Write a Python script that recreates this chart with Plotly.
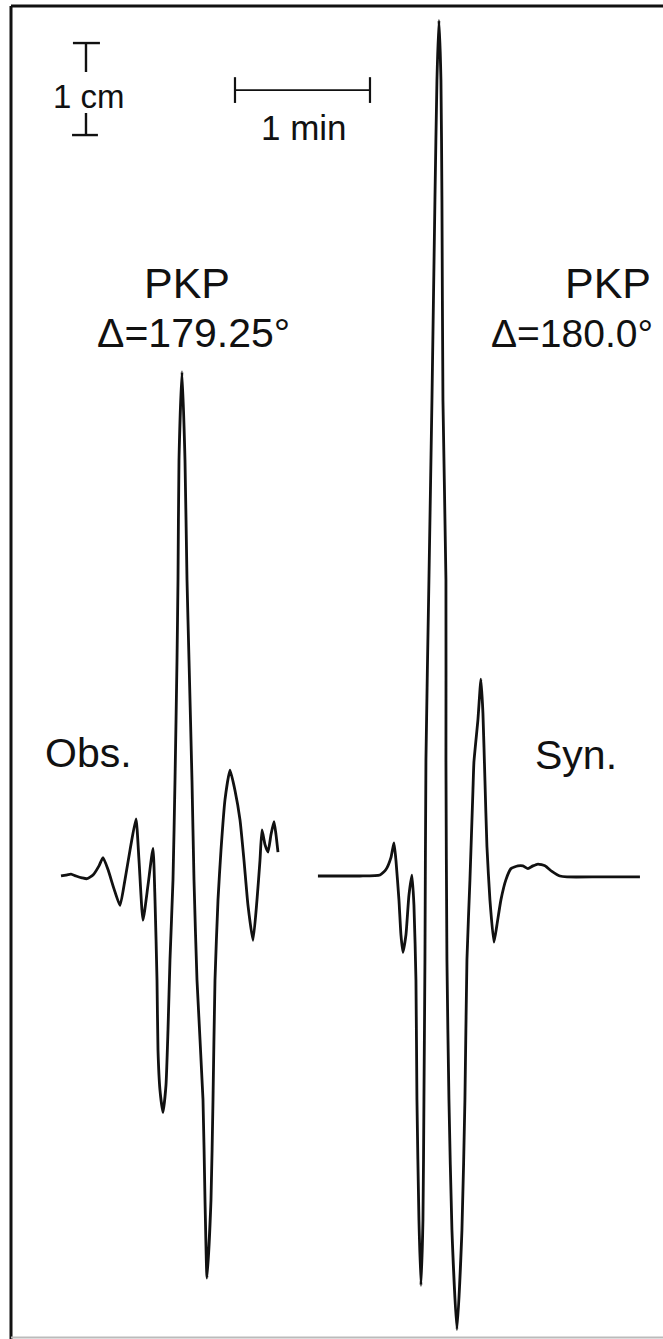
import plotly.graph_objects as go

# ---------------- data (time in s, amplitude in cm) ----------------
obs_t = [0, 2.22, 4.44, 6.67, 9.33, 11.56, 14.22, 16.89, 18.67, 20.89, 23.56, 26.22,
         28.44, 30.67, 33.33, 34.67, 36.44, 38.67, 40.89, 41.78, 42.67, 43.11, 44.00,
         45.33, 46.67, 47.56, 48.44, 49.78, 50.67, 51.56, 52.00, 52.44, 53.78, 55.11,
         56.00, 56.89, 58.22, 59.11, 60.44, 63.11, 64.00, 64.89, 66.67, 67.56, 68.44,
         69.78, 71.11, 72.89, 75.11, 77.33, 79.56, 81.33, 83.11, 85.33, 87.11, 88.44,
         89.33, 90.67, 92.00, 93.33, 94.67, 95.56, 96.44]
obs_a = [0, 0.01, 0.02, 0, -0.02, -0.03, 0.01, 0.11, 0.20, 0.07, -0.14, -0.32,
         -0.04, 0.28, 0.62, 0.17, -0.48, -0.10, 0.30, -0.26, -1.13, -1.89, -2.33,
         -2.57, -2.27, -1.67, -0.91, -0.04, 1.04, 2.35, 3.22, 4.52, 5.48, 4.52,
         3.22, 2.35, 1.04, -0.04, -1.13, -2.43, -3.52, -4.37, -3.52, -2.43, -1.13,
         -0.26, 0.28, 0.83, 1.15, 0.93, 0.61, 0.17, -0.32, -0.70, -0.26, 0.17,
         0.50, 0.34, 0.26, 0.45, 0.59, 0.45, 0.26]

syn_t = [0, 9.78, 18.67, 27.56, 30.22, 32.44, 33.78, 34.67, 36.00, 36.89, 37.78,
         39.11, 40.44, 41.78, 42.67, 43.56, 44.00, 44.89, 45.78, 46.67, 47.11, 47.56,
         48.00, 49.33, 50.67, 52.00, 52.89, 53.78, 54.67, 55.11, 55.56, 56.89, 56.89,
         57.33, 58.22, 59.56, 61.78, 64.00, 65.33, 66.22, 67.56, 68.89, 69.33, 71.11,
         72.44, 73.33, 74.22, 75.11, 76.44, 78.22, 79.56, 81.33, 83.56, 85.78, 88.89,
         91.11, 93.33, 95.56, 97.78, 100.89, 104.00, 107.56, 110.67, 125.33, 143.11]
syn_a = [0, 0, 0, 0.01, 0.07, 0.20, 0.36, 0.17, -0.26, -0.64, -0.83,
         -0.64, -0.21, 0.01, -0.32, -1.13, -2.43, -3.74, -4.45, -3.74, -2.43, -0.91,
         1.26, 3.22, 5.17, 7.35, 8.65, 9.30, 8.65, 7.35, 5.17, 3.22, 1.26,
         -0.91, -2.43, -3.85, -4.93, -3.85, -2.43, -0.91, -0.04, 0.93, 1.24, 1.70,
         2.14, 1.77, 1.04, 0.32, -0.26, -0.72, -0.53, -0.26, -0.04, 0.08, 0.11,
         0.11, 0.08, 0.11, 0.13, 0.11, 0.05, 0, -0.01, -0.01, -0.01]

labels_phase = ["PKP", "PKP"]
labels_dist = ["Δ=179.25°", "Δ=180.0°"]
labels_trace = ["Obs.", "Syn."]
scale_time_s = 60      # 1 min
scale_amp_cm = 1       # 1 cm

# ---------------- layout constants ----------------
W, H = 663, 1339
SYN_SHIFT = 114.2               # display offset of the synthetic trace (s)
X_RANGE = [-27.11, 267.56]
Y_RANGE = [-5.033, 9.522]
FONT = "Liberation Sans, Arial, sans-serif"
INK = "#111111"

def px(xp):
    return xp / W

def py(yp):
    return 1 - yp / H

fig = go.Figure()
fig.add_trace(go.Scatter(x=obs_t, y=obs_a, mode="lines",
                         line=dict(color=INK, width=2.8, shape="spline", smoothing=0.5),
                         hoverinfo="skip", showlegend=False))
fig.add_trace(go.Scatter(x=[t + SYN_SHIFT for t in syn_t], y=syn_a, mode="lines",
                         line=dict(color=INK, width=2.8, shape="spline", smoothing=0.5),
                         hoverinfo="skip", showlegend=False))

shapes = []
# frame
shapes.append(dict(type="line", xref="paper", yref="paper", x0=px(11), x1=px(11),
                   y0=py(6), y1=py(1339), line=dict(color=INK, width=3)))
shapes.append(dict(type="line", xref="paper", yref="paper", x0=px(11), x1=1,
                   y0=py(6), y1=py(6), line=dict(color=INK, width=3)))
shapes.append(dict(type="line", xref="paper", yref="paper", x0=px(11), x1=1,
                   y0=py(1337.5), y1=py(1337.5), line=dict(color="#bbbbbb", width=2)))

# 1 min scale bar
t0 = 77.33
ybar = 8.543
shapes.append(dict(type="line", x0=t0, x1=t0 + scale_time_s, y0=ybar, y1=ybar,
                   line=dict(color=INK, width=1.8)))
for tt in (t0, t0 + scale_time_s):
    shapes.append(dict(type="line", x0=tt, x1=tt, y0=ybar - 0.14, y1=ybar + 0.14,
                       line=dict(color=INK, width=2.2)))

# 1 cm scale bar
tc = 11.11
a_top = 9.054
a_bot = a_top - scale_amp_cm
shapes.append(dict(type="line", x0=tc - 5.8, x1=tc + 6.2, y0=a_top, y1=a_top,
                   line=dict(color=INK, width=2.4)))
shapes.append(dict(type="line", x0=tc, x1=tc, y0=a_top, y1=a_top - 0.315,
                   line=dict(color=INK, width=2.4)))
shapes.append(dict(type="line", x0=tc - 6.2, x1=tc + 5.3, y0=a_bot, y1=a_bot,
                   line=dict(color=INK, width=2.4)))
shapes.append(dict(type="line", x0=tc, x1=tc, y0=a_bot, y1=a_bot + 0.24,
                   line=dict(color=INK, width=2.4)))

ann = []
def txt(s, xp, yp, size, anchor="center"):
    ann.append(dict(text=s, xref="paper", yref="paper", x=px(xp), y=py(yp),
                    xanchor=anchor, yanchor="middle", showarrow=False,
                    font=dict(family=FONT, size=size, color=INK)))

txt("1 cm", 89, 97, 33)
txt("1 min", 304, 127, 35)
txt(labels_phase[0], 187, 283, 43)
txt(labels_dist[0], 193, 333, 41)
txt(labels_phase[1], 608, 283, 43)
txt(labels_dist[1], 655, 333, 39, anchor="right")
txt(labels_trace[0], 88, 753, 41)
txt(labels_trace[1], 576, 755, 41)

fig.update_layout(
    width=W, height=H, margin=dict(l=0, r=0, t=0, b=0),
    paper_bgcolor="white", plot_bgcolor="white",
    xaxis=dict(range=X_RANGE, visible=False, fixedrange=True),
    yaxis=dict(range=Y_RANGE, visible=False, fixedrange=True),
    shapes=shapes, annotations=ann, showlegend=False,
)
fig.write_html("out.html", config={"displayModeBar": False},
               post_script="document.body.style.margin='0';"
                           "document.body.style.overflow='hidden';")
